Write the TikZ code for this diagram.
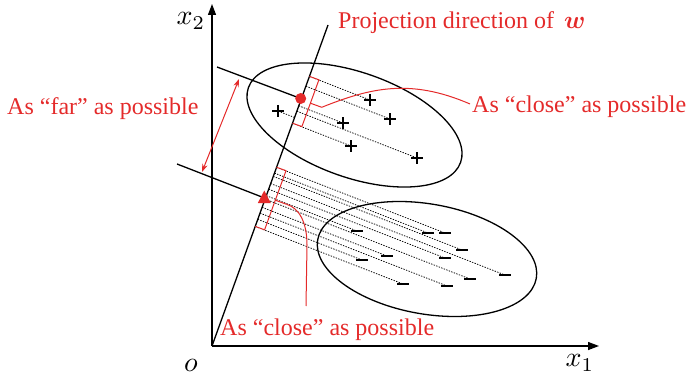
\documentclass[tikz,border=0pt]{standalone}
\usepackage{amsmath}
\usepackage{fontspec}
\setmainfont{Liberation Serif}
\usetikzlibrary{arrows.meta,calc}
\definecolor{myred}{RGB}{228,42,42}
\begin{document}
\begin{tikzpicture}[x=1pt,y=-1pt,
  axis/.style={line width=1.3pt,-{Triangle[length=11pt,width=8pt]}},
  blk/.style={line width=1.3pt},
  proj/.style={line width=0.75pt, dash pattern=on 1.4pt off 1.3pt, black},
  redline/.style={myred, line width=1pt},
  lbl/.style={myred, inner sep=0pt, anchor=base west, font=\fontsize{24}{28}\selectfont},
  mathlbl/.style={inner sep=0pt, font=\fontsize{10}{12}\selectfont},
  pluspic/.pic={\draw[line width=1.7pt] (-6,0)--(6,0) (0,-6)--(0,6);},
  minuspic/.pic={\draw[line width=2.2pt] (-6,0)--(6,0);},
]
\useasboundingbox (0,0) rectangle (687,377);

% axes
\coordinate (O) at (212,346);
\coordinate (X1) at (599,346);
\coordinate (X2) at (212,4);
\draw[axis] (O) -- (X1);
\draw[axis] (O) -- (X2);
\node[mathlbl] (x1lbl) at (580,363) {\scalebox{2.8}{$x_1$}};
\node[mathlbl] (x2lbl) at (191,21) {\scalebox{2.8}{$x_2$}};
\node[mathlbl] (olbl) at (191,365) {\scalebox{2.8}{$o$}};

% projection direction
\coordinate (W) at (328,25);
\draw[blk] (O) -- (W);

% ellipses
\draw[blk, rotate around={-19.4:(354.5,125)}] (354.5,125) ellipse (112.5 and 52.5);
\draw[blk, rotate around={-10:(427,259)}] (427,259) ellipse (111 and 55);

% upper class points and feet
\coordinate (p1) at (278,111);  \coordinate (f1) at (294.6,117.5);
\coordinate (p2) at (370,100);  \coordinate (f2) at (309.5,76.4);
\coordinate (p3) at (390,119);  \coordinate (f3) at (305.9,86.2);
\coordinate (p4) at (343,123);  \coordinate (f4) at (298.8,105.8);
\coordinate (p5) at (351,146);  \coordinate (f5) at (292.5,123.2);
\coordinate (p6) at (417,158);  \coordinate (f6) at (296.9,111.2);
\foreach \i in {1,...,6} {\draw[proj] (f\i) -- (p\i);}
\foreach \i in {1,...,6} {\pic at (p\i) {pluspic};}

% lower class points and feet
\coordinate (m1) at (357,231);  \coordinate (g1) at (266.4,195.7);
\coordinate (m2) at (428,233);  \coordinate (g2) at (274.5,173.1);
\coordinate (m3) at (445,233);  \coordinate (g3) at (276.6,167.3);
\coordinate (m4) at (462,250);  \coordinate (g4) at (273.3,176.4);
\coordinate (m5) at (362,260);  \coordinate (g5) at (257.8,219.4);
\coordinate (m6) at (387,256);  \coordinate (g6) at (262.1,207.3);
\coordinate (m7) at (445,258);  \coordinate (g7) at (268.7,189.2);
\coordinate (m8) at (470,279);  \coordinate (g8) at (265.1,199.1);
\coordinate (m9) at (505,275);  \coordinate (g9) at (270.7,183.6);
\coordinate (m10) at (403,284); \coordinate (g10) at (255.2,226.4);
\coordinate (m11) at (447,286); \coordinate (g11) at (260.0,213.1);
\foreach \i in {1,...,11} {\draw[proj] (g\i) -- (m\i);}
\foreach \i in {1,...,11} {\pic at (m\i) {minuspic};}

% class mean lines
\coordinate (L1) at (217,67);
\coordinate (dot) at (300.7,98.5);
\coordinate (L2) at (177,164);
\coordinate (tri) at (264.5,198);
\draw[blk] (L1) -- (dot);
\draw[blk] (L2) -- (tri);
\fill[myred] (dot) circle (5.5);
\fill[myred] (264.3,190.5) -- (257.8,203) -- (270.8,203) -- cycle;

% brackets
\coordinate (sU1) at (318.9,79.8);
\coordinate (sUm) at (310.4,103.2);
\coordinate (tipU) at (321.7,107.3);
\coordinate (sU2) at (301.9,126.6);
\draw[redline] (f2) -- (sU1) -- (sUm) -- (tipU) -- (sUm) -- (sU2) -- (f5);
\coordinate (sL1) at (286.0,170.7);
\coordinate (sLm) at (275.3,200.2);
\coordinate (tipL) at (286.6,204.3);
\coordinate (sL2) at (264.6,229.8);
\draw[redline] (g3) -- (sL1) -- (sLm) -- (tipL) -- (sLm) -- (sL2) -- (g10);

% leader curves
\coordinate (endU) at (470,104);
\draw[redline] (tipU) .. controls (370,88) and (410,78) .. (endU);
\coordinate (midL) at (307,245);
\coordinate (endL) at (306,306);
\draw[redline] (tipL) .. controls (299,208) and (307,222) .. (midL) -- (endL);

% far arrow
\coordinate (fa) at (239,79);
\coordinate (fb) at (202,172);
\draw[redline, {Stealth[length=8pt,width=5.5pt]}-{Stealth[length=8pt,width=5.5pt]}] (fa) -- (fb);

% labels
\node[lbl] (farlbl) at (7,114) {As “far” as possible};
\node[lbl] (closeR) at (472,113) {As “close” as possible};
\node[lbl] (closeB) at (220,335) {As “close” as possible};
\node[lbl] (projlbl) at (338,29) {Projection direction of \,$\boldsymbol{w}$};
\end{tikzpicture}
\end{document}
